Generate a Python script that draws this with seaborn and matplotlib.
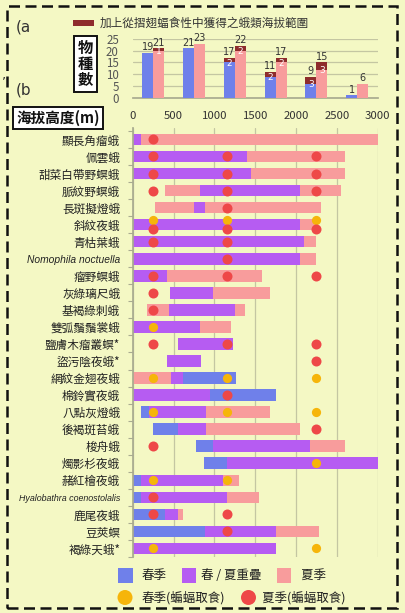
import numpy as np
import pandas as pd
import matplotlib
matplotlib.use("Agg")
import matplotlib.pyplot as plt
from matplotlib.patches import Rectangle, Ellipse
import seaborn as sns

# ---------------- (a) species counts per 500 m altitude band ----------------
band_mid = [250, 750, 1250, 1750, 2250, 2750]
spring_count = [19, 21, 15, 9, 6, 1]
spring_extra = [0, 0, 2, 2, 3, 0]
summer_count = [20, 23, 20, 15, 12, 6]
summer_extra = [1, 0, 2, 2, 3, 0]
count_ticks = [0, 5, 10, 15, 20, 25]

# ---------------- (b) altitude ranges per species ----------------
species = ["顯長角瘤蛾", "佩雲蛾", "甜菜白帶野螟蛾", "脈紋野螟蛾", "長斑擬燈蛾",
           "斜紋夜蛾", "青枯葉蛾", "Nomophila noctuella", "瘤野螟蛾", "灰綠璃尺蛾",
           "基褐綠刺蛾", "雙弧鬚鬚裳蛾", "鹽膚木瘤叢螟*", "盜污陰夜蛾*", "網紋金翅夜蛾",
           "棉鈴實夜蛾", "八點灰燈蛾", "後褐斑苔蛾", "梭舟蛾", "燭影杉夜蛾",
           "赭紅檜夜蛾", "Hyalobathra coenostolalis", "鹿尾夜蛾", "豆莢螟", "褐綠天蛾*"]
latin_names = {"Nomophila noctuella": 7.4, "Hyalobathra coenostolalis": 6.4}
nan = np.nan
spring_lo = [0, 0, 0, 820, 750, 0, 0, 0, 0, 460, 440, 0, nan, nan, 470,
             0, 100, 250, 780, 870, 0, 0, 0, 0, 0]
spring_hi = [100, 1400, 1450, 2050, 880, 2050, 2100, 2050, 420, 980, 1250, 820, nan, nan, 1270,
             1750, 900, 900, 2170, 3000, 1100, 1150, 550, 1760, 1760]
summer_lo = [0, 0, 0, 400, 270, 0, 0, 0, 0, 460, 170, 0, 550, 420, 0,
             0, 200, 550, 980, 1150, 100, 100, 400, 890, nan]
summer_hi = [3000, 2600, 2600, 2550, 2300, 2250, 2250, 2250, 1580, 1680, 1370, 1200, 1230, 840, 610,
             950, 1680, 2050, 2600, 3000, 1300, 1550, 620, 2280, nan]

# moths found in bat diets (row index, sampling altitude)
spring_bat_row = [5, 5, 5, 11, 14, 14, 14, 16, 16, 16, 19, 20, 20, 24, 24]
spring_bat_alt = [250, 1150, 2250, 250, 250, 1150, 2250, 250, 1150, 2250, 2250, 250, 1150, 250, 2250]
summer_bat_row = [0, 1, 1, 1, 2, 2, 2, 3, 3, 3, 4, 5, 5, 5, 6, 6, 7, 8, 8, 8,
                  9, 10, 12, 12, 12, 13, 15, 17, 18, 21, 22, 22, 23]
summer_bat_alt = [250, 250, 1150, 2250, 250, 1150, 2250, 250, 1150, 2250, 1150, 250, 1150, 2250,
                  250, 1150, 1150, 250, 1150, 2250, 250, 250, 250, 1150, 2250, 2250, 1150,
                  2250, 250, 250, 250, 1150, 1150]
alt_ticks = [0, 500, 1000, 1500, 2000, 2500, 3000]

# ---------------- style ----------------
BG = "#F4F8C4"
BLUE = "#6F80EA"
PURPLE = "#B65CF2"
PINK = "#F89C9C"
ORANGE = "#F6B50A"
RED = "#EE4848"
DARKRED = "#8E2C2C"
GRID = "#C4C6A2"
TXT = "#222222"

sns.set_theme(style="white")
plt.rcParams["font.family"] = ["Noto Sans CJK TC", "DejaVu Sans"]

W, H = 406, 613
fig = plt.figure(figsize=(W / 100, H / 100), dpi=100, facecolor=BG)


def px_axes(left, top, right, bottom):
    return fig.add_axes([left / W, 1 - bottom / H, (right - left) / W, (bottom - top) / H])


def fx(x):
    return x / W


def fy(y):
    return 1 - y / H


# ---------------- panel (a) ----------------
axa = px_axes(132.7, 39, 377.7, 97.7)
axa.set_facecolor(BG)
tot_spring = [a + b for a, b in zip(spring_count, spring_extra)]
tot_summer = [a + b for a, b in zip(summer_count, summer_extra)]
df_tot = pd.DataFrame({"alt": band_mid * 2,
                       "season": ["spring"] * 6 + ["summer"] * 6,
                       "n": tot_spring + tot_summer})
df_base = pd.DataFrame({"alt": band_mid * 2,
                        "season": ["spring"] * 6 + ["summer"] * 6,
                        "n": spring_count + summer_count})
sns.barplot(data=df_tot, x="alt", y="n", hue="season", native_scale=True, width=0.54,
            palette=[DARKRED, DARKRED], saturation=1, errorbar=None, legend=False,
            linewidth=0, ax=axa, zorder=2)
sns.barplot(data=df_base, x="alt", y="n", hue="season", native_scale=True, width=0.54,
            palette=[BLUE, PINK], saturation=1, errorbar=None, legend=False,
            linewidth=0, ax=axa, zorder=3)
axa.set_xlim(0, 3000)
axa.set_ylim(0, 25)
axa.set_yticks(count_ticks)
axa.set_xticks([])
axa.set_xlabel("")
axa.set_ylabel("")
axa.grid(axis="y", color=GRID, lw=0.9, zorder=0)
axa.set_axisbelow(True)
for s in ["top", "right", "left"]:
    axa.spines[s].set_visible(False)
axa.spines["bottom"].set_color("#A9AB90")
axa.tick_params(axis="y", length=0, pad=10, labelsize=8.3, labelcolor="#555555")

# totals above bars, extra counts inside the dark tops
for cont, totals in zip(axa.containers[:2], [tot_spring, tot_summer]):
    axa.bar_label(cont, labels=[str(t) for t in totals], padding=0.5,
                  fontsize=7, color="#333333", family="DejaVu Sans")
for cont, base, extra in zip(axa.containers[2:], [spring_count, summer_count],
                             [spring_extra, summer_extra]):
    for bar, b, e in zip(cont, base, extra):
        if e > 0:
            axa.text(bar.get_x() + bar.get_width() / 2, b - 0.4, str(e), ha="center",
                     va="center", fontsize=6.5, color="white", family="DejaVu Sans", zorder=5)

# ---------------- panel (b) ----------------
axb = px_axes(132.7, 128, 377.7, 557)
axb.set_facecolor(BG)
ypos = np.arange(len(species))
sl, sh = np.array(spring_lo), np.array(spring_hi)
ul, uh = np.array(summer_lo), np.array(summer_hi)
BH = 0.68
ms = ~np.isnan(sl)
axb.barh(ypos[ms], (sh - sl)[ms], left=sl[ms], height=BH, color=BLUE, lw=0, zorder=2)
mu = ~np.isnan(ul)
axb.barh(ypos[mu], (uh - ul)[mu], left=ul[mu], height=BH, color=PINK, lw=0, zorder=2)
ol, oh = np.fmax(sl, ul), np.fmin(sh, uh)
mo = (~np.isnan(ol)) & (~np.isnan(oh)) & (oh > ol)
axb.barh(ypos[mo], (oh - ol)[mo], left=ol[mo], height=BH, color=PURPLE, lw=0, zorder=2)

# bat-diet dots; when both seasons share a spot, split them vertically
both = set(zip(spring_bat_row, spring_bat_alt)) & set(zip(summer_bat_row, summer_bat_alt))
sp_y = [r - 0.26 if (r, a) in both else r for r, a in zip(spring_bat_row, spring_bat_alt)]
su_y = [r + 0.26 if (r, a) in both else r for r, a in zip(summer_bat_row, summer_bat_alt)]
sns.scatterplot(x=spring_bat_alt, y=sp_y, color=ORANGE, s=44, linewidth=0, ax=axb, zorder=4)
sns.scatterplot(x=summer_bat_alt, y=su_y, color=RED, s=52, linewidth=0, ax=axb, zorder=5)

axb.set_xlim(0, 3000)
axb.set_ylim(24.41, -0.67)
axb.xaxis.tick_top()
axb.set_xticks(alt_ticks)
axb.set_xticklabels([str(t) for t in alt_ticks])
axb.tick_params(axis="x", length=0, pad=5, labelsize=8.2, labelcolor="#333333")
axb.set_yticks(ypos)
axb.set_yticklabels(species)
axb.set_yticks(np.arange(len(species) + 1) - 0.5, minor=True)
axb.tick_params(axis="y", which="major", length=0, pad=9, labelsize=8.4, labelcolor=TXT)
axb.tick_params(axis="y", which="minor", left=True, length=3.5, width=0.8, color="#A9AB90")
for lab in axb.get_yticklabels():
    if lab.get_text() in latin_names:
        lab.set_fontstyle("italic")
        lab.set_family("Liberation Sans")
        lab.set_fontsize(latin_names[lab.get_text()])
axb.grid(axis="x", color=GRID, lw=0.9, zorder=0)
axb.grid(axis="y", visible=False)
axb.set_axisbelow(True)
for s in ["top", "right", "bottom"]:
    axb.spines[s].set_visible(False)
axb.spines["left"].set_color("#A9AB90")
axb.set_xlabel("")
axb.set_ylabel("")

# ---------------- annotations ----------------
fig.text(fx(16), fy(27), "(a", fontsize=11, color="#333333", va="center", family="DejaVu Sans")
fig.text(fx(16), fy(90), "(b", fontsize=11, color="#333333", va="center", family="DejaVu Sans")
fig.text(fx(2), fy(82), "’", fontsize=9, color="#222222", va="center", family="DejaVu Sans")

fig.patches.append(Rectangle((fx(73), fy(26)), fx(94) - fx(73), fy(20) - fy(26),
                             transform=fig.transFigure, color=DARKRED, lw=0))
fig.text(fx(100), fy(23), "加上從摺翅蝠食性中獲得之蛾類海拔範圍", fontsize=8.4,
         color="#333333", va="center")

fig.text(fx(85.5), fy(64), "物\n種\n數", fontsize=11, fontweight="bold", color="#111111",
         ha="center", va="center", linespacing=1.0,
         bbox=dict(boxstyle="square,pad=0.25", fc="white", ec="#111111", lw=1.4))
fig.text(fx(58), fy(118), "海拔高度(m)", fontsize=10.5, fontweight="bold", color="#111111",
         ha="center", va="center",
         bbox=dict(boxstyle="square,pad=0.2", fc="white", ec="#111111", lw=1.4))

# ---------------- legend ----------------
LEG_FS = 9.0
for x0, x1, col, lab, tx in [(118, 133, BLUE, "春季", 142),
                             (182, 196, PURPLE, "春 / 夏重疊", 201),
                             (277, 291, PINK, "夏季", 301)]:
    fig.patches.append(Rectangle((fx(x0), fy(583)), fx(x1) - fx(x0), fy(568) - fy(583),
                                 transform=fig.transFigure, color=col, lw=0))
    fig.text(fx(tx), fy(575.5), lab, fontsize=LEG_FS, color=TXT, va="center")
for cx, col, lab, tx in [(125, ORANGE, "春季(蝙蝠取食)", 142),
                         (248.5, RED, "夏季(蝙蝠取食)", 262)]:
    fig.patches.append(Ellipse((fx(cx), fy(597.5)), 15 / W, 15 / H,
                               transform=fig.transFigure, color=col, lw=0))
    fig.text(fx(tx), fy(597.5), lab, fontsize=LEG_FS, color=TXT, va="center")

# dashed frame
fig.patches.append(Rectangle((fx(6.5), fy(608)), fx(397.5) - fx(6.5), fy(6) - fy(608),
                             transform=fig.transFigure, fill=False, ec="#111111", lw=1.8,
                             linestyle=(0, (4.4, 2.2))))

fig.savefig("out.png", dpi=100, facecolor=BG)
